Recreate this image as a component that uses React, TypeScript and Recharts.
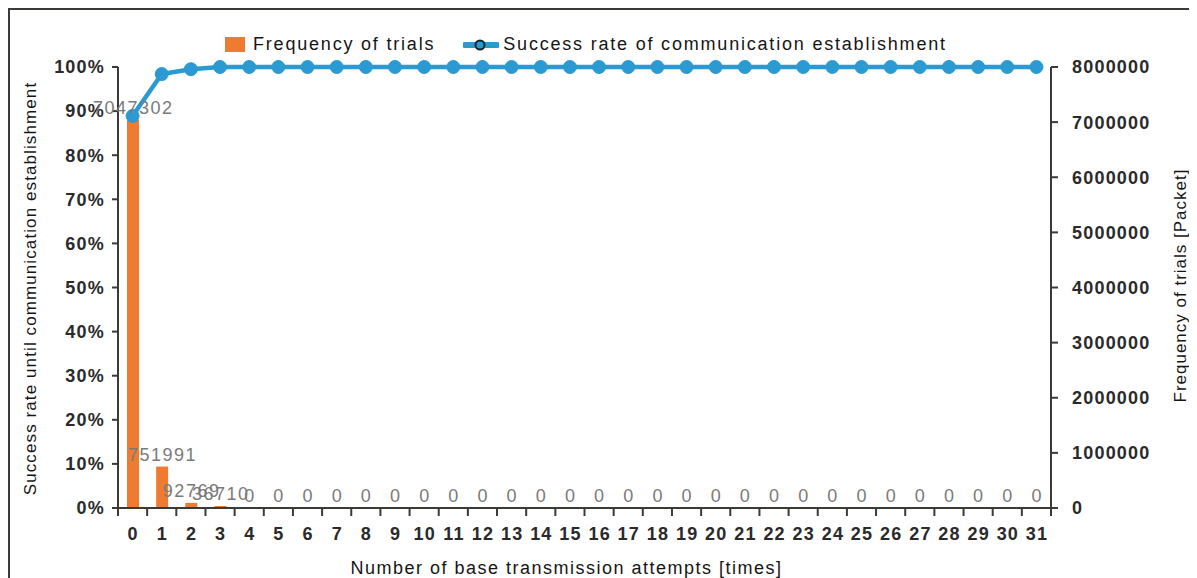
import { Bar, ComposedChart, Label, Legend, Line, XAxis, YAxis } from 'recharts'

const attempts = ['0', '1', '2', '3', '4', '5', '6', '7', '8', '9', '10', '11', '12', '13', '14', '15', '16', '17', '18', '19', '20', '21', '22', '23', '24', '25', '26', '27', '28', '29', '30', '31']
const frequency = [7047302, 751991, 92769, 36710, 0, 0, 0, 0, 0, 0, 0, 0, 0, 0, 0, 0, 0, 0, 0, 0, 0, 0, 0, 0, 0, 0, 0, 0, 0, 0, 0, 0]
const successRate = [88.9, 98.4, 99.5, 100, 100, 100, 100, 100, 100, 100, 100, 100, 100, 100, 100, 100, 100, 100, 100, 100, 100, 100, 100, 100, 100, 100, 100, 100, 100, 100, 100, 100]
const rateTicks = [0, 10, 20, 30, 40, 50, 60, 70, 80, 90, 100]
const freqTicks = [0, 1000000, 2000000, 3000000, 4000000, 5000000, 6000000, 7000000, 8000000]

const data = attempts.map((a, i) => ({ attempt: a, frequency: frequency[i], rate: successRate[i] }))

const ORANGE = '#ee7b30'
const BLUE = '#2b9ad2'
const INK = '#151515'
const AXIS = '#3a3a36'
const FONT = '"Liberation Sans", Arial, Helvetica, sans-serif'

const W = 1187
const H = 568
const PLOT_LEFT = 108
const PLOT_RIGHT = 1041
const BAND = (PLOT_RIGHT - PLOT_LEFT) / attempts.length

const tickText = { fontFamily: FONT, fontSize: 18, fontWeight: 'bold', fill: '#2a2a2a', letterSpacing: 1.2 }

// x ticks sit between the categories, labels in the middle
const XTick = (props: any) => {
	const { x, y, payload, index } = props
	const axisY = y - 18
	return (
		<g>
			<line x1={x - BAND / 2} x2={x - BAND / 2} y1={axisY} y2={axisY + 8} stroke={AXIS} strokeWidth={2} />
			{index === attempts.length - 1 && (
				<line x1={x + BAND / 2} x2={x + BAND / 2} y1={axisY} y2={axisY + 8} stroke={AXIS} strokeWidth={2} />
			)}
			<text x={x + 0.6} y={y + 14} textAnchor="middle" {...tickText}>
				{payload.value}
			</text>
		</g>
	)
}

// value labels above bars, zeros included
const FreqLabel = (props: any) => {
	const { x, y, value } = props
	return (
		<text x={x + 0.75} y={y - 6} textAnchor="middle" fontFamily={FONT} fontSize={18} letterSpacing={1.5} fill="#7a7a7a">
			{value}
		</text>
	)
}

const LegendContent = () => (
	<div style={{ display: 'flex', alignItems: 'center', fontFamily: FONT, fontSize: 18, color: INK, letterSpacing: 1.8, whiteSpace: 'nowrap' }}>
		<span style={{ display: 'inline-block', width: 20, height: 15, background: ORANGE, marginRight: 8 }} />
		<span>Frequency of trials</span>
		<svg width={36} height={16} style={{ marginLeft: 28, marginRight: 4 }}>
			<line x1={2} y1={8} x2={34} y2={8} stroke={BLUE} strokeWidth={6} strokeLinecap="round" />
			<circle cx={17} cy={8} r={4.5} fill={BLUE} stroke="#16222a" strokeWidth={2} />
		</svg>
		<span>Success rate of communication establishment</span>
	</div>
)

const rotatedTitle = (text: string, x: number, y: number, spacing: number) => (
	<text x={x} y={y} transform={`rotate(-90 ${x} ${y})`} textAnchor="middle" dominantBaseline="central" fontFamily={FONT} fontSize={17} fill={INK} letterSpacing={spacing}>
		{text}
	</text>
)

export default function App() {
	return (
		<div style={{ borderTop: `2px solid ${AXIS}`, borderLeft: `2px solid ${AXIS}`, width: 1200, height: 580, boxSizing: 'border-box', position: 'relative' }}>
			<ComposedChart
				width={W}
				height={H}
				data={data}
				margin={{ top: 57, right: 0, bottom: 0, left: 0 }}
				barSize={12}
			>
				<XAxis
					dataKey="attempt"
					interval={0}
					height={70}
					stroke={AXIS}
					axisLine={{ stroke: AXIS, strokeWidth: 2 }}
					tickLine={false}
					tickSize={8}
					tickMargin={10}
					tick={<XTick />}
				>
					<Label
						content={({ viewBox }: any) => (
							<text x={viewBox.x + viewBox.width / 2 - 18} y={viewBox.y + 66} textAnchor="middle" fontFamily={FONT} fontSize={18} fill={INK} letterSpacing={1.5}>
								Number of base transmission attempts [times]
							</text>
						)}
					/>
				</XAxis>
				<YAxis
					yAxisId="rate"
					orientation="left"
					width={PLOT_LEFT}
					domain={[0, 100]}
					ticks={rateTicks}
					tickFormatter={(v: number) => `${v}%`}
					axisLine={{ stroke: AXIS, strokeWidth: 2 }}
					tickLine={{ stroke: AXIS, strokeWidth: 2 }}
					tickSize={6}
					tickMargin={7}
					tick={tickText}
				>
					<Label content={({ viewBox }: any) => rotatedTitle('Success rate until communication establishment', 20, viewBox.y + viewBox.height / 2 + 1, 1.1)} />
				</YAxis>
				<YAxis
					yAxisId="freq"
					orientation="right"
					width={W - PLOT_RIGHT}
					domain={[0, 8000000]}
					ticks={freqTicks}
					axisLine={{ stroke: AXIS, strokeWidth: 2 }}
					tickLine={{ stroke: AXIS, strokeWidth: 2 }}
					tickSize={7}
					tickMargin={14}
					tick={tickText}
				>
					<Label content={({ viewBox }: any) => rotatedTitle('Frequency of trials [Packet]', 1170, viewBox.y + viewBox.height / 2 - 2, 1.0)} />
				</YAxis>
				<Legend
					layout="horizontal"
					verticalAlign="middle"
					align="center"
					wrapperStyle={{ top: 24, left: 215, width: 'auto' }}
					content={<LegendContent />}
				/>
				<Bar yAxisId="freq" dataKey="frequency" name="Frequency of trials" fill={ORANGE} isAnimationActive={false} />
				<Line
					yAxisId="freq"
					dataKey="frequency"
					stroke="none"
					dot={false}
					activeDot={false}
					legendType="none"
					label={<FreqLabel />}
					isAnimationActive={false}
				/>
				<Line
					yAxisId="rate"
					dataKey="rate"
					name="Success rate of communication establishment"
					stroke={BLUE}
					strokeWidth={4.5}
					dot={{ r: 6.5, fill: BLUE, stroke: BLUE, strokeWidth: 1 }}
					isAnimationActive={false}
				/>
			</ComposedChart>
		</div>
	)
}
